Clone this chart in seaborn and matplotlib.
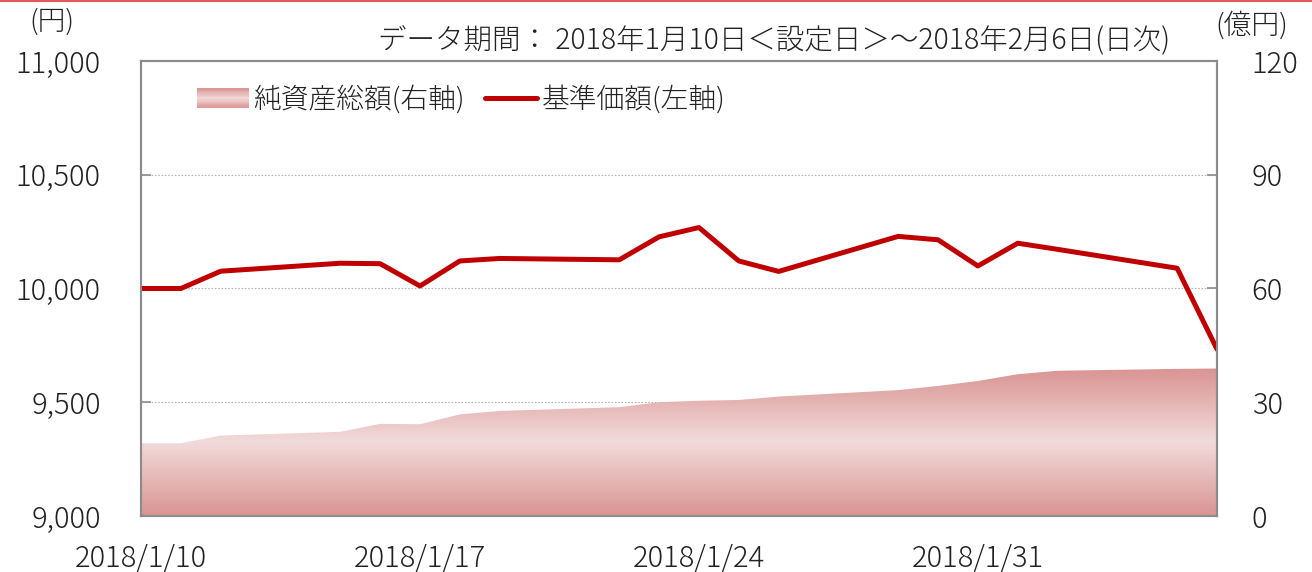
import numpy as np
import pandas as pd
import matplotlib
matplotlib.use('Agg')
import matplotlib.pyplot as plt
import matplotlib.dates as mdates
from matplotlib.patches import Rectangle
from matplotlib.lines import Line2D
from matplotlib.legend_handler import HandlerBase
from matplotlib.colors import LinearSegmentedColormap
from matplotlib.ticker import FuncFormatter
import seaborn as sns

# Data
dates = ['2018-01-10', '2018-01-11', '2018-01-12', '2018-01-15', '2018-01-16',
         '2018-01-17', '2018-01-18', '2018-01-19', '2018-01-22', '2018-01-23',
         '2018-01-24', '2018-01-25', '2018-01-26', '2018-01-29', '2018-01-30',
         '2018-01-31', '2018-02-01', '2018-02-02', '2018-02-05', '2018-02-06']
nav = [10000, 10000, 10076, 10111, 10109, 10011, 10121, 10132, 10126, 10227,
       10268, 10121, 10075, 10229, 10214, 10099, 10199, 10172, 10089, 9733]
aum = [19.2, 19.2, 21.2, 22.2, 24.3, 24.2, 26.8, 27.7, 28.7, 30.0,
       30.4, 30.6, 31.5, 33.2, 34.3, 35.6, 37.4, 38.3, 38.8, 38.9]
tick_dates = ['2018-01-10', '2018-01-17', '2018-01-24', '2018-01-31']

title = 'データ期間： 2018年1月10日＜設定日＞～2018年2月6日(日次)'
label_aum = '純資産総額(右軸)'
label_nav = '基準価額(左軸)'

LINE = '#c00000'
SPINE = '#8c8c8c'
TXT = '#222222'
grad_cmap = LinearSegmentedColormap.from_list('aum', ['#f2dbdb', '#d99492'])

sns.set_theme(style='white')
plt.rcParams['font.family'] = ['Noto Sans CJK JP', 'DejaVu Sans']
plt.rcParams['font.weight'] = 'light'

df = pd.DataFrame({'date': pd.to_datetime(dates), 'nav': nav, 'aum': aum})
x = mdates.date2num(df['date'])

fig = plt.figure(figsize=(13.12, 5.72), dpi=100)
ax1 = fig.add_axes([0.1075, 0.0979, 0.8201, 0.7955])
ax2 = ax1.twinx()
ax1.set_zorder(ax2.get_zorder() + 1)
ax1.patch.set_visible(False)

# net assets: area with vertical gradient, on right axis
area = ax2.fill_between(x, 0, df['aum'], color='none', lw=0)
grad = np.abs(np.linspace(-1, 1, 256)).reshape(-1, 1)
img = ax2.imshow(grad, cmap=grad_cmap, aspect='auto', origin='lower',
                 extent=[x[0], x[-1], 0, df['aum'].max()], zorder=1)
img.set_clip_path(area.get_paths()[0], transform=ax2.transData)

# nav line on left axis
sns.lineplot(data=df, x='date', y='nav', ax=ax1, color=LINE, lw=3.6, legend=False)

ax1.set_xlim(x[0], x[-1])
ax2.set_xlim(x[0], x[-1])
ax1.set_ylim(9000, 11000)
ax2.set_ylim(0, 120)
ax1.set_yticks(range(9000, 11001, 500))
ax2.set_yticks(range(0, 121, 30))
ax1.set_xticks(mdates.date2num(pd.to_datetime(tick_dates)))
ax1.yaxis.set_major_formatter(FuncFormatter(lambda v, p: f'{int(v):,}'))
ax1.xaxis.set_major_formatter(FuncFormatter(
    lambda v, p: (lambda d: f'{d.year}/{d.month}/{d.day}')(mdates.num2date(v))))
ax1.set_xlabel('')
ax1.set_ylabel('')

ax2.yaxis.grid(True, color='#b5b5b5', linestyle=(0, (1.5, 1.5)), lw=0.8)
ax2.set_axisbelow(True)

ax1.tick_params(axis='both', direction='in', length=7, width=1.2, color=SPINE,
                labelsize=21, labelcolor=TXT)
ax1.tick_params(axis='y', pad=29)
ax1.tick_params(axis='x', pad=20)
ax2.tick_params(axis='y', direction='in', length=7, width=1.2, color=SPINE,
                labelsize=21, labelcolor=TXT, pad=25)
for ax in (ax1, ax2):
    for s in ax.spines.values():
        s.set_color(SPINE)
        s.set_linewidth(1.5)


class GradientHandler(HandlerBase):
    def create_artists(self, legend, orig_handle, xdescent, ydescent,
                       width, height, fontsize, trans):
        n = 16
        arts = []
        for i in range(n):
            t = abs((i + 0.5) / n * 2 - 1)
            arts.append(Rectangle((-xdescent, -ydescent + height * i / n), width, height / n,
                                  facecolor=grad_cmap(t), edgecolor='none', transform=trans))
        return arts


h_area = Rectangle((0, 0), 1, 1)
h_line = Line2D([], [], color=LINE, lw=3.6)
ax1.legend([h_area, h_line], [label_aum, label_nav], handler_map={h_area: GradientHandler()},
           ncol=2, loc='upper left', bbox_to_anchor=(0.052, 0.947), frameon=False,
           fontsize=20, handlelength=1.87, handletextpad=0.15, columnspacing=0.75,
           borderpad=0, borderaxespad=0, labelcolor=TXT)

fig.text(52 / 1312, 1 - 22 / 572, '(円)', ha='center', va='center', fontsize=20, color=TXT)
fig.text(1252 / 1312, 1 - 25 / 572, '(億円)', ha='center', va='center', fontsize=20, color=TXT)
fig.text(774 / 1312, 1 - 40 / 572, title, ha='center', va='center', fontsize=20.5, color=TXT)
fig.add_artist(Line2D([0, 1], [0.998, 0.998], color='#e05a5a', lw=1.5, transform=fig.transFigure))

fig.savefig('out.png', dpi=100)
